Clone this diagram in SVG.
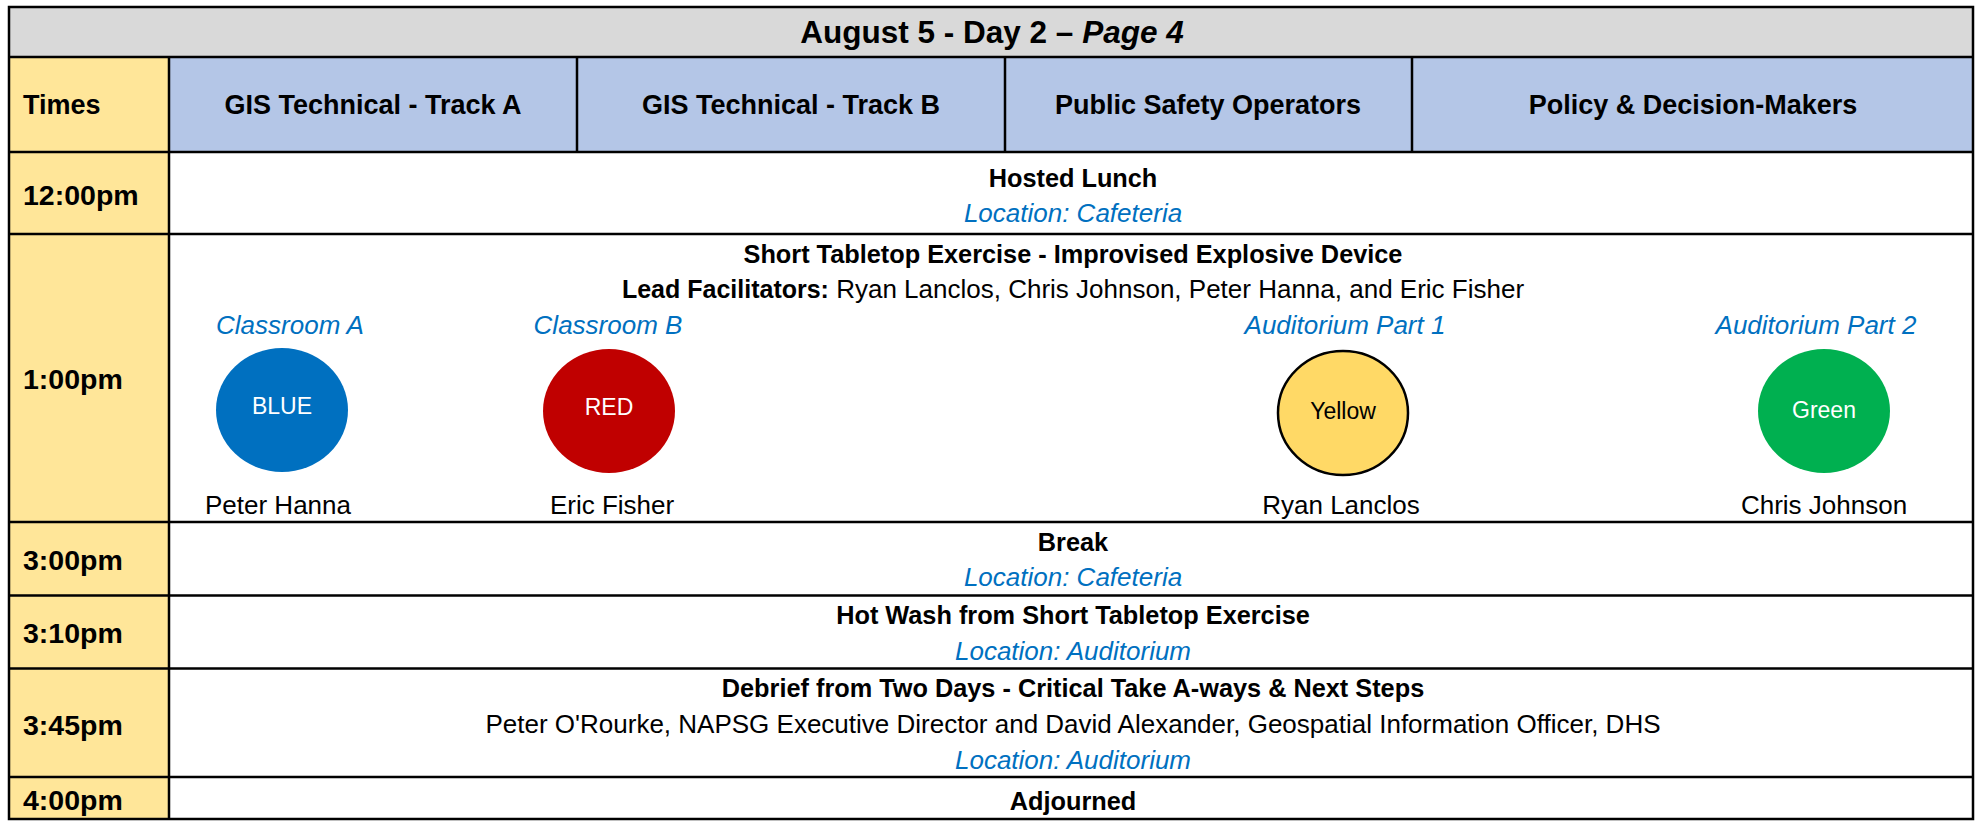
<svg xmlns="http://www.w3.org/2000/svg" width="1977" height="821" viewBox="0 0 1977 821">
<style>
  text { font-family: "Liberation Sans", Arial, sans-serif; fill: #000; }
  .title { font-size: 31.5px; font-weight: bold; }
  .hdr { font-size: 27px; font-weight: bold; }
  .time { font-size: 28.5px; font-weight: bold; }
  .b { font-size: 25.3px; font-weight: bold; }
  .r { font-size: 26px; }
  .loc { font-size: 26px; font-style: italic; fill: #0070C0; }
  .ell { font-size: 23px; }
  .c { text-anchor: middle; }
  .grid { stroke: #000; stroke-width: 2.5; fill: none; }
</style>
<rect x="0" y="0" width="1977" height="821" fill="#FFFFFF"/>

<g id="title">
  <rect x="9" y="7" width="1964" height="50" fill="#D9D9D9"/>
  <text class="title c" x="992" y="43">August 5 - Day 2 – <tspan font-style="italic">Page 4</tspan></text>
</g>

<g id="header-times">
  <rect x="9" y="57" width="160" height="95" fill="#FFE699"/>
  <text class="hdr" x="23" y="114">Times</text>
</g>
<g id="header-track-a">
  <rect x="169" y="57" width="408" height="95" fill="#B4C6E7"/>
  <text class="hdr c" x="373" y="114">GIS Technical - Track A</text>
</g>
<g id="header-track-b">
  <rect x="577" y="57" width="428" height="95" fill="#B4C6E7"/>
  <text class="hdr c" x="791" y="114">GIS Technical - Track B</text>
</g>
<g id="header-public-safety">
  <rect x="1005" y="57" width="407" height="95" fill="#B4C6E7"/>
  <text class="hdr c" x="1208" y="114">Public Safety Operators</text>
</g>
<g id="header-policy">
  <rect x="1412" y="57" width="561" height="95" fill="#B4C6E7"/>
  <text class="hdr c" x="1693" y="114">Policy &amp; Decision-Makers</text>
</g>

<g id="time-column">
  <rect x="9" y="152" width="160" height="668" fill="#FFE699"/>
  <text class="time" x="23" y="205">12:00pm</text>
  <text class="time" x="23" y="389">1:00pm</text>
  <text class="time" x="23" y="570">3:00pm</text>
  <text class="time" x="23" y="643">3:10pm</text>
  <text class="time" x="23" y="735">3:45pm</text>
  <text class="time" x="23" y="810">4:00pm</text>
</g>

<g id="row-1200">
  <text class="b c" x="1073" y="187">Hosted Lunch</text>
  <text class="loc c" x="1073" y="222">Location: Cafeteria</text>
</g>

<g id="row-1300">
  <text class="b c" x="1073" y="263">Short Tabletop Exercise - Improvised Explosive Device</text>
  <text class="r c" x="1073" y="298"><tspan font-weight="bold" font-size="25px">Lead Facilitators:</tspan> Ryan Lanclos, Chris Johnson, Peter Hanna, and Eric Fisher</text>
</g>

<g id="group-blue">
  <text class="loc c" x="290" y="334">Classroom A</text>
  <ellipse cx="282" cy="410" rx="66" ry="62" fill="#0070C0"/>
  <text class="ell c" x="282" y="414" style="fill:#FFFFFF">BLUE</text>
  <text class="r c" x="278" y="514">Peter Hanna</text>
</g>
<g id="group-red">
  <text class="loc c" x="608" y="334">Classroom B</text>
  <ellipse cx="609" cy="411" rx="66" ry="62" fill="#C00000"/>
  <text class="ell c" x="609" y="415" style="fill:#FFFFFF">RED</text>
  <text class="r c" x="612" y="514">Eric Fisher</text>
</g>
<g id="group-yellow">
  <text class="loc c" x="1345" y="334">Auditorium Part 1</text>
  <ellipse cx="1343" cy="413" rx="65" ry="62" fill="#FFD966" stroke="#000" stroke-width="2.5"/>
  <text class="ell c" x="1343" y="419">Yellow</text>
  <text class="r c" x="1341" y="514">Ryan Lanclos</text>
</g>
<g id="group-green">
  <text class="loc c" x="1816" y="334">Auditorium Part 2</text>
  <ellipse cx="1824" cy="411" rx="66" ry="62" fill="#00B050"/>
  <text class="ell c" x="1824" y="418" style="fill:#FFFFFF">Green</text>
  <text class="r c" x="1824" y="514">Chris Johnson</text>
</g>

<g id="row-1500">
  <text class="b c" x="1073" y="551">Break</text>
  <text class="loc c" x="1073" y="586">Location: Cafeteria</text>
</g>
<g id="row-1510">
  <text class="b c" x="1073" y="624">Hot Wash from Short Tabletop Exercise</text>
  <text class="loc c" x="1073" y="660">Location: Auditorium</text>
</g>
<g id="row-1545">
  <text class="b c" x="1073" y="697">Debrief from Two Days - Critical Take A-ways &amp; Next Steps</text>
  <text class="r c" x="1073" y="733">Peter O'Rourke, NAPSG Executive Director and David Alexander, Geospatial Information Officer, DHS</text>
  <text class="loc c" x="1073" y="769">Location: Auditorium</text>
</g>
<g id="row-1600">
  <text class="b c" x="1073" y="810">Adjourned</text>
</g>

<g id="connectors">
  <path class="grid" d="M9,7 H1973 V819 H9 Z
    M9,57 H1973 M9,152 H1973 M9,234 H1973 M9,522 H1973 M9,595.5 H1973 M9,668.5 H1973 M9,777 H1973
    M169,57 V819 M577,57 V152 M1005,57 V152 M1412,57 V152"/>
</g>
</svg>
